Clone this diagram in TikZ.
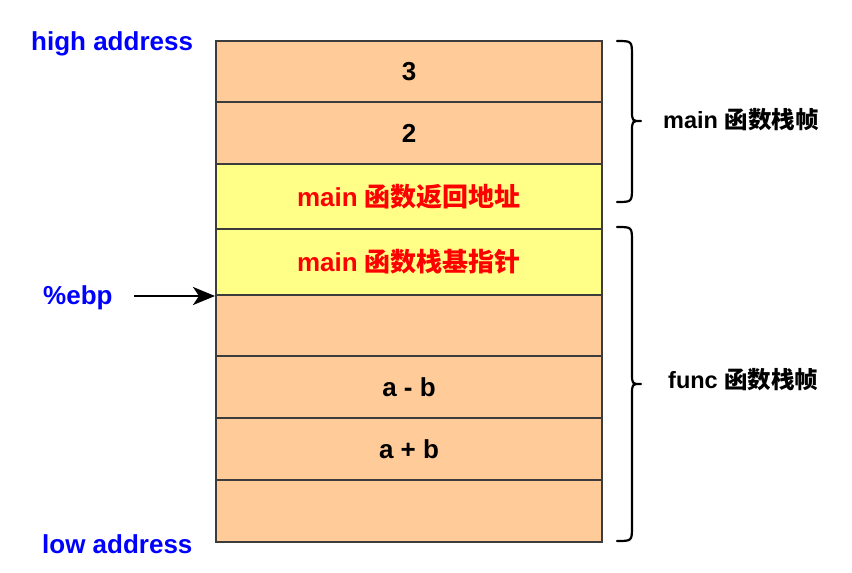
\documentclass[tikz,border=0pt]{standalone}
\usepackage{fontspec}
\usetikzlibrary{arrows.meta}
\setmainfont{Liberation Sans}
\newfontfamily\cjk{Noto Sans CJK SC Bold}
\definecolor{orangefill}{HTML}{FFCC99}
\definecolor{yellowfill}{HTML}{FFFF88}
\definecolor{borderc}{HTML}{3C3C3C}
\definecolor{bluetxt}{HTML}{0000FF}
\definecolor{redtxt}{HTML}{FF0000}
\begin{document}
\begin{tikzpicture}[x=1pt,y=-1pt,
  cell/.style={draw=borderc,line width=2pt,minimum width=386pt,inner sep=0pt,anchor=north west,font=\fontsize{26}{30}\selectfont\bfseries},
  orange/.style={cell,fill=orangefill},
  yellow/.style={cell,fill=yellowfill,text=redtxt},
  side/.style={font=\fontsize{26}{30}\selectfont\bfseries,text=bluetxt,inner sep=0pt},
  lab/.style={font=\fontsize{23.5}{28}\selectfont\bfseries,inner sep=0pt},
  bracec/.style={line width=2.2pt,line cap=round,line join=round}]
\useasboundingbox (0,0) rectangle (852,573);
\node[orange,minimum height=61pt] (r1) at (215,40) {3};
\node[orange,minimum height=62pt] (r2) at (215,101) {2};
\node[yellow,minimum height=65pt] (r3) at (215,163) {main {\cjk 函数返回地址}};
\node[yellow,minimum height=66pt] (r4) at (215,228) {main {\cjk 函数栈基指针}};
\node[orange,minimum height=61pt] (r5) at (215,294) {};
\node[orange,minimum height=62pt] (r6) at (215,355) {a - b};
\node[orange,minimum height=62pt] (r7) at (215,417) {a + b};
\node[orange,minimum height=62pt] (r8) at (215,479) {};
\node[side,anchor=west] (high) at (31,44) {high address};
\node[side,anchor=west] (ebp) at (43,298) {\%ebp};
\node[side,anchor=west] (low) at (42,544) {low address};
\coordinate (ebpstart) at (134,294);
\draw[line width=2.4pt,-{Stealth[length=22pt,width=18pt,inset=6pt]}] (ebpstart |- r4.south west) -- (r4.south west);
% braces
\draw[bracec] (617,41) .. controls (632,41) .. (632,56) -- (632,110) .. controls (632,121) .. (641,121)
  .. controls (632,121) .. (632,132) -- (632,187) .. controls (632,202) .. (617,202);
\draw[bracec] (617,227) .. controls (632,227) .. (632,242) -- (632,373) .. controls (632,384) .. (641,384)
  .. controls (632,384) .. (632,395) -- (632,526) .. controls (632,541) .. (617,541);
\node[lab,anchor=west] (mainlab) at (663,120) {main {\cjk 函数栈帧}};
\node[lab,anchor=west] (funclab) at (668,380) {func {\cjk 函数栈帧}};
\end{tikzpicture}
\end{document}
